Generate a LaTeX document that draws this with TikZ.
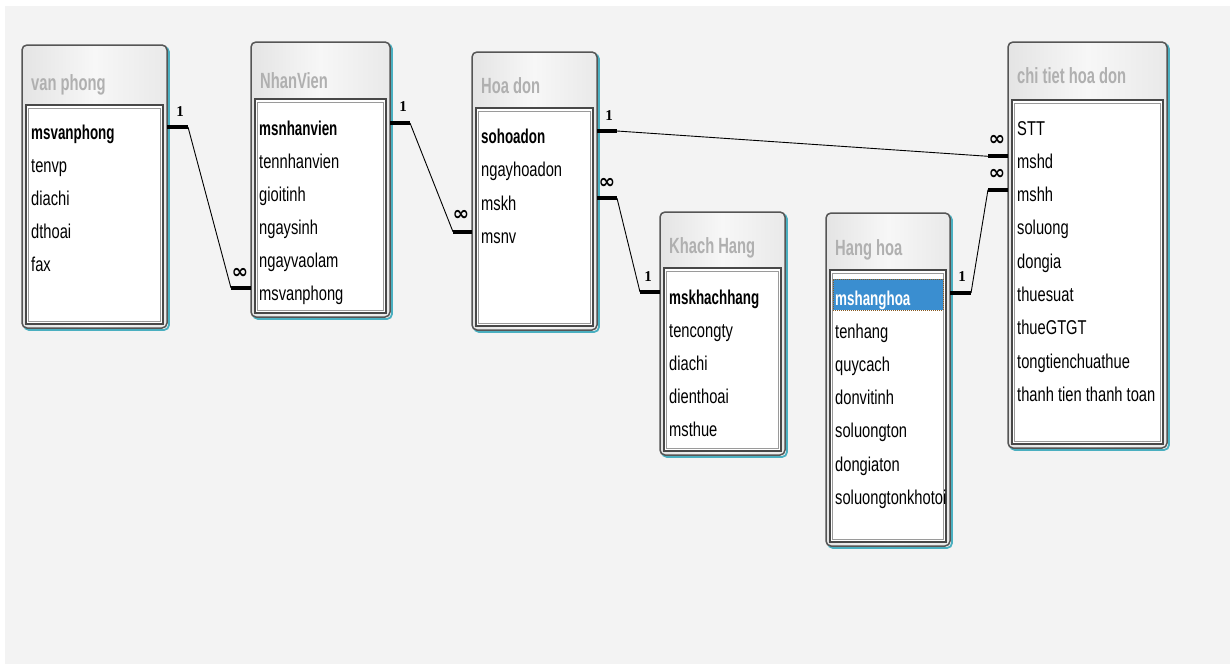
\documentclass[tikz,border=0pt]{standalone}
\usepackage{fontspec}
\setmainfont{Liberation Sans}
\newfontfamily\fieldfont[FakeStretch=0.735]{Liberation Sans}
\newfontfamily\keyfont[FakeStretch=0.67]{Liberation Sans}
\newfontfamily\titlefont[FakeStretch=0.67]{Liberation Sans}
\newfontfamily\symfont{DejaVu Sans}
\newfontfamily\onefont{Liberation Serif}
\usetikzlibrary{fit,calc}
\definecolor{bggray}{HTML}{F3F3F3}
\definecolor{framegray}{HTML}{555555}
\definecolor{tealshade}{HTML}{4AAFC0}
\definecolor{titlegray}{HTML}{B0B0B0}
\definecolor{hdA}{HTML}{E4E4E4}
\definecolor{hdB}{HTML}{E9E9E9}
\definecolor{hdC}{HTML}{F7F7F7}
\definecolor{bodyline}{HTML}{484848}
\definecolor{innerline}{HTML}{9A9A9A}
\definecolor{selblue}{HTML}{3A8ED0}
\definecolor{seldot}{HTML}{8A5A20}
\tikzset{
  tshadow/.style={draw=tealshade, line width=1.8pt, rounded corners=5pt},
  tframe/.style={draw=framegray, line width=1.5pt, rounded corners=5pt, inner sep=0pt, outer sep=0pt,
    left color=hdA, right color=hdB, middle color=hdC},
  tbody/.style={draw=bodyline, line width=1.3pt, fill=white, inner sep=0pt, outer sep=0pt},
  tinner/.style={draw=innerline, line width=1pt, inner sep=0pt, outer sep=0pt},
  ttitle/.style={anchor=base west, inner sep=0pt, text=titlegray, font=\titlefont\bfseries\fontsize{22}{24}\selectfont},
  tfield/.style={anchor=base west, inner sep=0pt, font=\fieldfont\fontsize{20}{22}\selectfont},
  tkey/.style={anchor=base west, inner sep=0pt, font=\keyfont\bfseries\fontsize{20}{22}\selectfont},
  selbox/.style={fill=selblue, draw=seldot, densely dotted, line width=1pt, inner sep=0pt},
  stub/.style={line width=4pt, line cap=butt},
  rel/.style={line width=0.9pt},
  cardone/.style={font=\onefont\bfseries\fontsize{15}{16}\selectfont, inner sep=0pt},
  cardmany/.style={font=\symfont\bfseries\fontsize{20}{20}\selectfont, inner sep=0pt},
}
% #1 name, #2 x1, #3 y1, #4 x2, #5 y2, #6 body top, #7 title baseline, #8 title
\newcommand{\erdtable}[8]{%
  \draw[tshadow] (#2+2,#3+2) rectangle (#4+2,#5+2);
  \node[tframe, fit={(#2,#3) (#4,#5)}] (#1) {};
  \node[tbody, fit={(#2+4,#6) (#4-4,#5-4)}] (#1-body) {};
  \node[tinner, fit={(#2+6.5,#6+3.5) (#4-6.5,#5-6.5)}] (#1-inner) {};
  \node[ttitle] (#1-title) at (#2+9,#7) {#8};
}
\begin{document}
\begin{tikzpicture}[x=1pt,y=-1pt]
\useasboundingbox (0,0) rectangle (1230,664);
\fill[white] (0,0) rectangle (1230,664);
\fill[bggray] (5,6) rectangle (1230,664);

% ---------------- tables ----------------
\erdtable{vp}{22}{45}{167}{328}{105}{90}{van phong}
\node[tkey] (vp-1) at (31,139) {msvanphong};
\foreach \t [count=\i from 2] in {tenvp,diachi,dthoai,fax}
  \node[tfield] (vp-\i) at (31,{139+33.2*(\i-1)}) {\t};

\erdtable{nv}{251}{42}{390}{317}{99}{88}{NhanVien}
\node[tkey] (nv-1) at (259,135) {msnhanvien};
\foreach \t [count=\i from 2] in {tennhanvien,gioitinh,ngaysinh,ngayvaolam,msvanphong}
  \node[tfield] (nv-\i) at (259,{135+33*(\i-1)}) {\t};

\erdtable{hd}{472}{52}{597}{330}{108}{93}{Hoa don}
\node[tkey] (hd-1) at (481,143) {sohoadon};
\foreach \t [count=\i from 2] in {ngayhoadon,mskh,msnv}
  \node[tfield] (hd-\i) at (481,{143+33.6*(\i-1)}) {\t};

\erdtable{kh}{660}{212}{785}{455}{268}{253}{Khach Hang}
\node[tkey] (kh-1) at (669,304) {mskhachhang};
\foreach \t [count=\i from 2] in {tencongty,diachi,dienthoai,msthue}
  \node[tfield] (kh-\i) at (669,{304+33.2*(\i-1)}) {\t};

\erdtable{hh}{826}{213}{950}{546}{270}{255}{Hang hoa}
\node[selbox, fit={(833,279) (943,310)}] (hh-sel) {};
\node[tkey, text=white] (hh-1) at (835,305) {mshanghoa};
\foreach \t [count=\i from 2] in {tenhang,quycach,donvitinh,soluongton,dongiaton,soluongtonkhotoi}
  \node[tfield] (hh-\i) at (835,{305+33.2*(\i-1)}) {\t};

\erdtable{ct}{1008}{42}{1167}{448}{100}{83}{chi tiet hoa don}
\foreach \t [count=\i] in {STT,mshd,mshh,soluong,dongia,thuesuat,thueGTGT,tongtienchuathue,thanh tien thanh toan}
  \node[tfield] (ct-\i) at (1017,{135+33.3*(\i-1)}) {\t};

% ---------------- relationships ----------------
% van phong (1) -- NhanVien (many)
\coordinate (r1a) at ($(vp-1.base -| vp.east)+(0,-12)$);
\coordinate (r1b) at ($(nv-6.base -| nv.west)+(0,-12)$);
\draw[stub] (r1a) -- ++(21,0) coordinate (r1a2);
\draw[stub] (r1b) -- ++(-20,0) coordinate (r1b2);
\draw[rel] (r1a2) -- (r1b2);
\node[cardone] (r1one) at ($(r1a)+(13,-15)$) {1};
\node[cardmany] (r1many) at ($(r1b)+(-11,-15)$) {∞};

% NhanVien (1) -- Hoa don (many)
\coordinate (r2a) at ($(nv-1.base -| nv.east)+(0,-12)$);
\coordinate (r2b) at ($(hd-4.base -| hd.west)+(0,-12)$);
\draw[stub] (r2a) -- ++(20,0) coordinate (r2a2);
\draw[stub] (r2b) -- ++(-19,0) coordinate (r2b2);
\draw[rel] (r2a2) -- (r2b2);
\node[cardone] (r2one) at ($(r2a)+(13,-16)$) {1};
\node[cardmany] (r2many) at ($(r2b)+(-11,-16)$) {∞};

% Hoa don (1) -- chi tiet hoa don (many) on mshd
\coordinate (r3a) at ($(hd-1.base -| hd.east)+(0,-12)$);
\coordinate (r3b) at ($(ct-2.base -| ct.west)+(0,-12)$);
\draw[stub] (r3a) -- ++(20,0) coordinate (r3a2);
\draw[stub] (r3b) -- ++(-20,0) coordinate (r3b2);
\draw[rel] (r3a2) -- (r3b2);
\node[cardone] (r3one) at ($(r3a)+(12,-15)$) {1};
\node[cardmany] (r3many) at ($(r3b)+(-11,-16)$) {∞};

% Hoa don (many) -- Khach Hang (1)
\coordinate (r4a) at ($(hd-3.base -| hd.east)+(0,-12)$);
\coordinate (r4b) at ($(kh-1.base -| kh.west)+(0,-12)$);
\draw[stub] (r4a) -- ++(20,0) coordinate (r4a2);
\draw[stub] (r4b) -- ++(-20,0) coordinate (r4b2);
\draw[rel] (r4a2) -- (r4b2);
\node[cardmany] (r4many) at ($(r4a)+(10,-15)$) {∞};
\node[cardone] (r4one) at ($(r4b)+(-12,-15)$) {1};

% Hang hoa (1) -- chi tiet hoa don (many) on mshh
\coordinate (r5a) at ($(hh-1.base -| hh.east)+(0,-12)$);
\coordinate (r5b) at ($(ct-3.base -| ct.west)+(0,-12)$);
\draw[stub] (r5a) -- ++(21,0) coordinate (r5a2);
\draw[stub] (r5b) -- ++(-20,0) coordinate (r5b2);
\draw[rel] (r5a2) -- (r5b2);
\node[cardone] (r5one) at ($(r5a)+(12,-16)$) {1};
\node[cardmany] (r5many) at ($(r5b)+(-11,-15)$) {∞};
\end{tikzpicture}
\end{document}
